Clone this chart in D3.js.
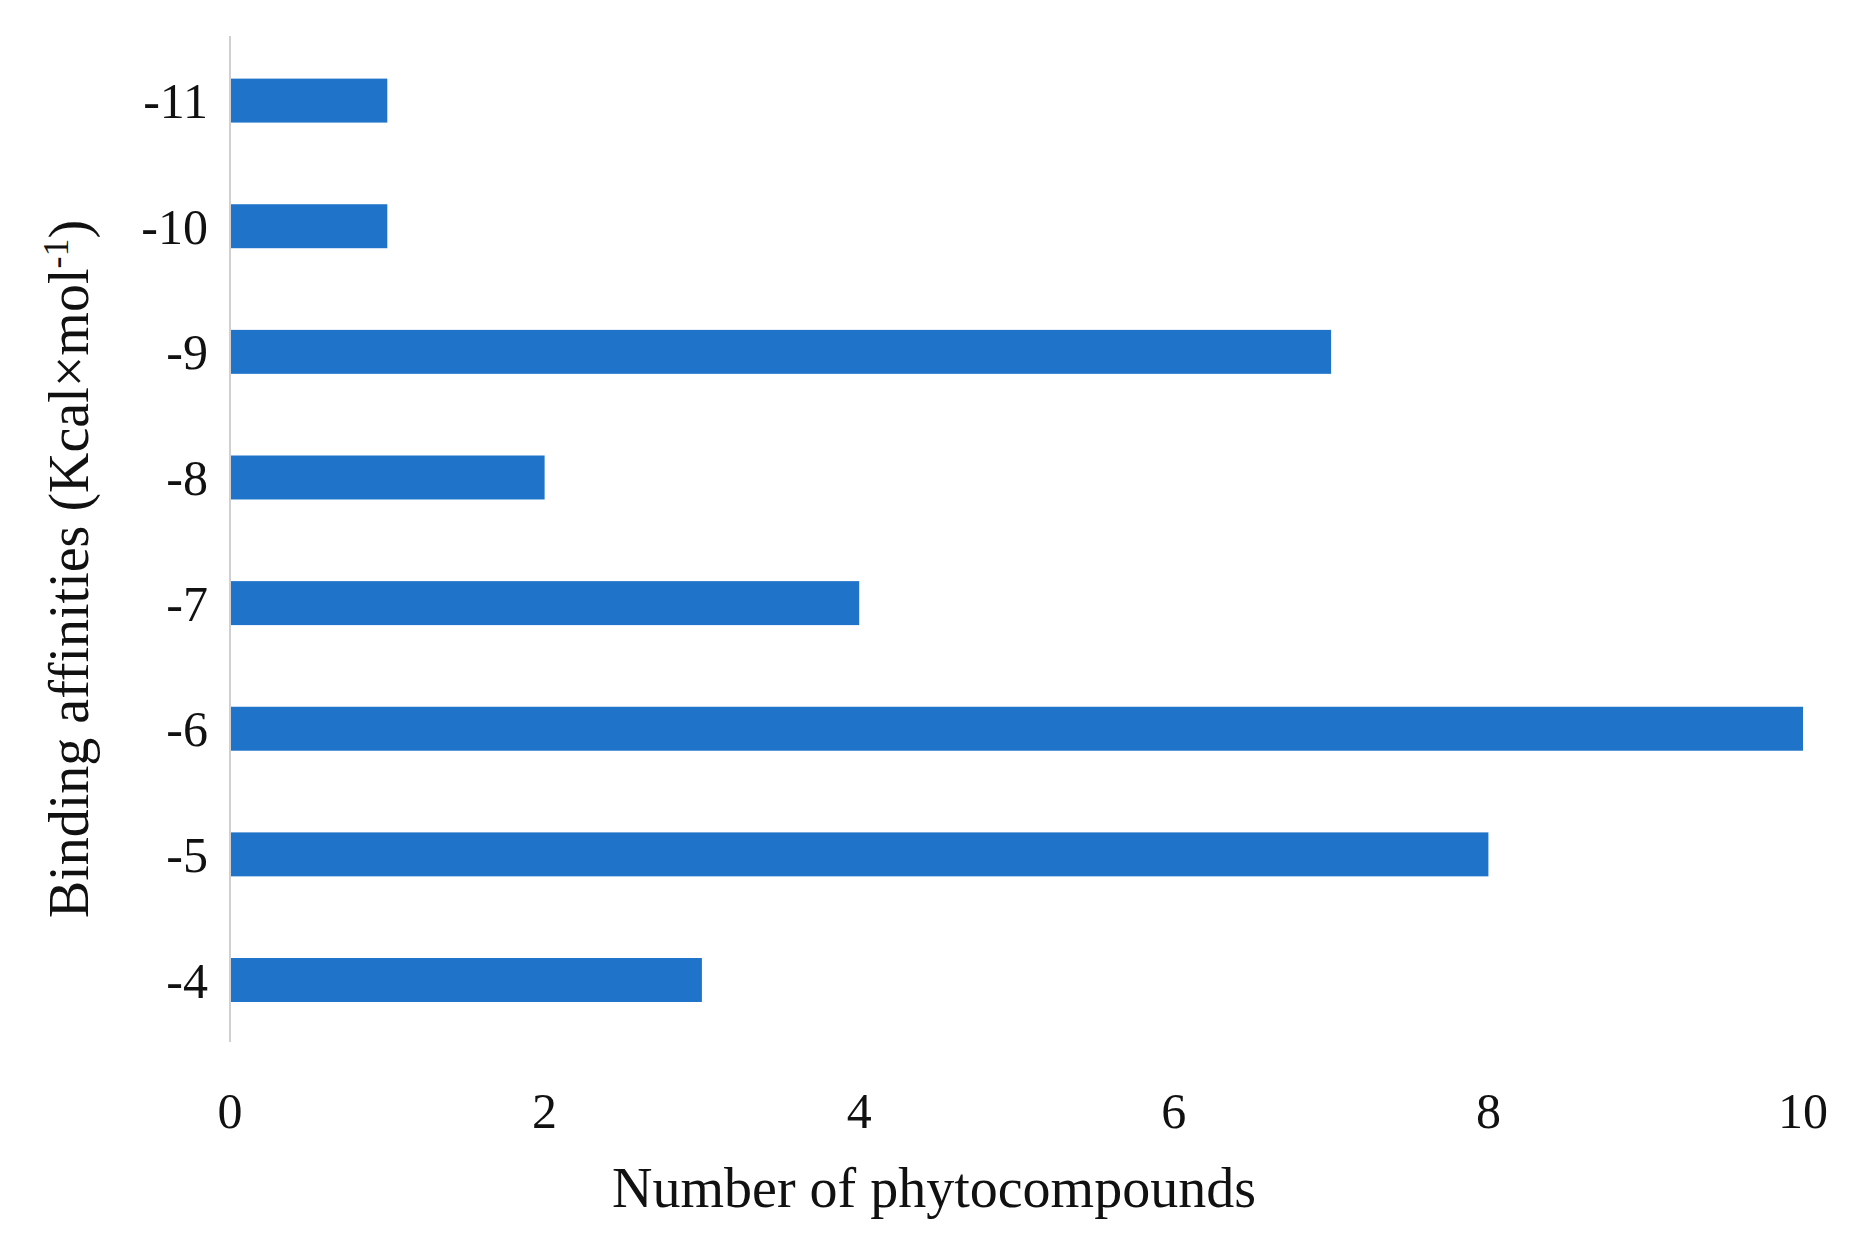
<!DOCTYPE html><html><head><meta charset="utf-8"><script src="https://cdn.jsdelivr.net/npm/d3@7"></script>
<style>body{margin:0;background:#fff}text{font-family:"Liberation Serif","DejaVu Serif",serif;fill:#111}</style></head><body>
<svg id="c" width="1868" height="1237"></svg>
<script>
const categories=["-11","-10","-9","-8","-7","-6","-5","-4"];
const values=[1,1,7,2,4,10,8,3];
const xTicks=[0,2,4,6,8,10];
const svg=d3.select("#c");
const x=d3.scaleLinear().domain([0,10]).range([230,1803]);
const step=(980-100.6)/7;
const y=d3.scaleBand().domain(categories).range([100.6-step/2,980+step/2]).paddingInner(0.65).paddingOuter(0.325);
svg.append("line").attr("x1",x(0)).attr("x2",x(0)).attr("y1",36).attr("y2",1042).attr("stroke","#d0d0d0").attr("stroke-width",2);
svg.selectAll("rect").data(values).join("rect").attr("x",x(0)+1).attr("y",(d,i)=>y(categories[i])).attr("height",y.bandwidth()).attr("width",d=>x(d)-x(0)-1).attr("fill","#1f74ca");
svg.selectAll(".yl").data(categories).join("text").attr("x",208).attr("y",d=>y(d)+y.bandwidth()/2).attr("dy","0.35em").attr("text-anchor","end").attr("font-size",50).text(d=>d);
svg.selectAll(".xl").data(xTicks).join("text").attr("x",d=>x(d)).attr("y",1128).attr("text-anchor","middle").attr("font-size",50).text(d=>d);
svg.append("text").attr("x",934).attr("y",1207).attr("text-anchor","middle").attr("font-size",56).text("Number of phytocompounds");
const t=svg.append("text").attr("transform","translate(88,569) rotate(-90)").attr("text-anchor","middle").attr("font-size",56);
t.append("tspan").text("Binding affinities (Kcal×mol");
t.append("tspan").attr("dy",-20).attr("font-size",36).text("-1");
t.append("tspan").attr("dy",20).text(")");
</script></body></html>
